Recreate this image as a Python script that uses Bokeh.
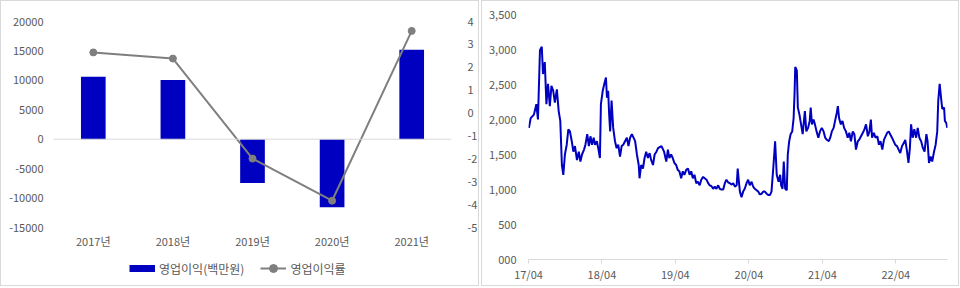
import pandas as pd
from bokeh.plotting import figure
from bokeh.layouts import row, column
from bokeh.models import (Range1d, LinearAxis, FixedTicker, Span, Legend, LegendItem,
                          FactorRange, DatetimeTickFormatter)
from bokeh.embed import file_html
from bokeh.resources import INLINE

# ---------------- data ----------------
years = ["2017년", "2018년", "2019년", "2020년", "2021년"]
op_profit = [10600, 10050, -7450, -11550, 15200]      # 영업이익(백만원)
op_margin = [2.65, 2.38, -1.99, -3.83, 3.59]          # 영업이익률
left_ticks = [-15000, -10000, -5000, 0, 5000, 10000, 15000, 20000]
right_ticks = [-5, -4, -3, -2, -1, 0, 1, 2, 3, 4]
legend_labels = ["영업이익(백만원)", "영업이익률"]

price_dates = [
    "2017-04-03", "2017-04-12", "2017-04-28", "2017-05-10", "2017-05-18", "2017-05-28", "2017-06-06",
    "2017-06-12", "2017-06-21", "2017-06-29", "2017-07-07", "2017-07-16", "2017-07-24", "2017-08-02",
    "2017-08-10", "2017-08-20", "2017-08-29", "2017-09-06", "2017-09-14", "2017-09-21", "2017-09-29",
    "2017-10-08", "2017-10-16", "2017-10-24", "2017-11-02", "2017-11-10", "2017-11-18", "2017-11-28",
    "2017-12-07", "2017-12-15", "2017-12-23", "2018-01-02", "2018-01-09", "2018-01-18", "2018-01-26",
    "2018-02-03", "2018-02-11", "2018-02-19", "2018-02-26", "2018-03-07", "2018-03-15", "2018-03-22",
    "2018-03-27", "2018-04-05", "2018-04-13", "2018-04-21", "2018-04-26", "2018-05-02", "2018-05-07",
    "2018-05-12", "2018-05-19", "2018-05-27", "2018-06-05", "2018-06-13", "2018-06-21", "2018-06-30",
    "2018-07-08", "2018-07-16", "2018-07-25", "2018-08-03", "2018-08-11", "2018-08-19", "2018-08-28",
    "2018-09-05", "2018-09-13", "2018-09-22", "2018-10-01", "2018-10-05", "2018-10-13", "2018-10-22",
    "2018-10-30", "2018-11-07", "2018-11-16", "2018-11-24", "2018-12-02", "2018-12-11", "2018-12-19",
    "2018-12-28", "2019-01-05", "2019-01-22", "2019-02-04", "2019-02-15", "2019-02-23", "2019-03-02",
    "2019-03-11", "2019-03-19", "2019-03-27", "2019-04-05", "2019-04-13", "2019-04-21", "2019-04-30",
    "2019-05-08", "2019-05-16", "2019-05-25", "2019-06-03", "2019-06-11", "2019-06-19", "2019-06-27",
    "2019-07-05", "2019-07-14", "2019-07-22", "2019-07-31", "2019-08-08", "2019-08-17", "2019-08-25",
    "2019-09-03", "2019-09-11", "2019-09-19", "2019-09-27", "2019-10-06", "2019-10-14", "2019-10-22",
    "2019-10-31", "2019-11-08", "2019-11-16", "2019-11-25", "2019-12-03", "2019-12-11", "2019-12-20",
    "2019-12-28", "2020-01-06", "2020-01-14", "2020-01-22", "2020-01-31", "2020-02-05", "2020-02-11",
    "2020-02-16", "2020-02-24", "2020-03-03", "2020-03-11", "2020-03-20", "2020-03-28", "2020-04-05",
    "2020-04-14", "2020-04-22", "2020-04-30", "2020-05-09", "2020-05-17", "2020-05-25", "2020-06-03",
    "2020-06-11", "2020-06-19", "2020-06-28", "2020-07-06", "2020-07-14", "2020-07-22", "2020-08-01",
    "2020-08-09", "2020-08-17", "2020-08-26", "2020-09-03", "2020-09-08", "2020-09-15", "2020-09-21",
    "2020-09-28", "2020-10-06", "2020-10-11", "2020-10-18", "2020-10-25", "2020-11-02", "2020-11-09",
    "2020-11-14", "2020-11-17", "2020-11-25", "2020-11-30", "2020-12-08", "2020-12-16", "2020-12-24",
    "2021-01-04", "2021-01-11", "2021-01-20", "2021-01-28", "2021-02-02", "2021-02-08", "2021-02-16",
    "2021-02-23", "2021-03-03", "2021-03-12", "2021-03-20", "2021-03-29", "2021-04-07", "2021-04-15",
    "2021-04-23", "2021-05-03", "2021-05-10", "2021-05-18", "2021-05-27", "2021-06-03", "2021-06-12",
    "2021-06-17", "2021-06-23", "2021-07-02", "2021-07-10", "2021-07-18", "2021-07-27", "2021-08-05",
    "2021-08-13", "2021-08-21", "2021-08-30", "2021-09-07", "2021-09-15", "2021-09-24", "2021-10-01",
    "2021-10-10", "2021-10-19", "2021-10-27", "2021-11-04", "2021-11-13", "2021-11-21", "2021-11-28",
    "2021-12-04", "2021-12-13", "2021-12-21", "2021-12-30", "2022-01-07", "2022-01-15", "2022-01-24",
    "2022-02-01", "2022-02-09", "2022-02-17", "2022-02-25", "2022-03-04", "2022-03-13", "2022-03-21",
    "2022-03-29", "2022-04-07", "2022-04-15", "2022-04-23", "2022-05-02", "2022-05-10", "2022-05-18",
    "2022-05-27", "2022-06-03", "2022-06-10", "2022-06-16", "2022-06-24", "2022-07-02", "2022-07-11",
    "2022-07-19", "2022-07-27", "2022-08-05", "2022-08-14", "2022-08-22", "2022-08-31", "2022-09-06",
    "2022-09-13", "2022-09-21", "2022-09-29", "2022-10-08", "2022-10-16", "2022-10-24", "2022-10-29",
    "2022-11-05", "2022-11-12", "2022-11-18", "2022-11-27", "2022-12-01", "2022-12-08", "2022-12-13",
]
price_values = [
    1880, 2020, 2070, 2220, 2000, 2990, 3040,
    2650, 2820, 2220, 2510, 2190, 2480, 2410,
    2240, 2430, 2120, 1980, 1350, 1210, 1500,
    1640, 1860, 1830, 1690, 1540, 1620, 1420,
    1540, 1400, 1500, 1570, 1640, 1790, 1620,
    1760, 1640, 1740, 1640, 1690, 1570, 1450,
    2220, 2410, 2510, 2600, 2310, 2410, 2070,
    1830, 2270, 1880, 1690, 1590, 1640, 1470,
    1620, 1640, 1690, 1740, 1620, 1740, 1790,
    1740, 1690, 1500, 1350, 1160, 1350, 1300,
    1450, 1540, 1450, 1520, 1420, 1350, 1500,
    1540, 1590, 1620, 1540, 1400, 1570, 1450,
    1500, 1450, 1380, 1350, 1280, 1260, 1160,
    1260, 1210, 1280, 1300, 1210, 1260, 1160,
    1210, 1090, 1110, 1060, 1140, 1180, 1160,
    1140, 1090, 1060, 1050, 1010, 1040, 1010,
    1060, 1010, 1000, 1000, 1090, 1140, 1100,
    1090, 1070, 1090, 1040, 1060, 1300, 1110,
    970, 890, 970, 1010, 1090, 1140, 1060,
    1110, 1040, 1010, 990, 970, 930, 940,
    970, 970, 940, 920, 920, 970, 1350,
    1690, 1210, 1110, 1210, 1060, 1010, 1400,
    1010, 990, 1500, 1690, 1790, 1830, 2020,
    2400, 2750, 2700, 2170, 2070, 1930, 1790,
    2120, 1830, 1880, 1980, 2170, 1930, 2000,
    1930, 1830, 1740, 1830, 1880, 1830, 1740,
    1710, 1690, 1740, 1830, 1880, 1980, 2100,
    2190, 2020, 1930, 1980, 1880, 1830, 1740,
    1810, 1690, 1830, 1790, 1570, 1690, 1710,
    1760, 1810, 1860, 1930, 1760, 1830, 2000,
    1740, 1810, 1740, 1760, 1640, 1690, 1570,
    1710, 1760, 1810, 1830, 1790, 1740, 1690,
    1640, 1620, 1570, 1520, 1620, 1660, 1710,
    1540, 1380, 1590, 1930, 1740, 1860, 1740,
    1880, 1740, 1690, 1590, 1540, 1790, 1690,
    1380, 1470, 1400, 1540, 1640, 1830, 2270,
    2510, 2310, 2150, 2170, 1980, 1950, 1880,
]
price_ticks = [0, 500, 1000, 1500, 2000, 2500, 3000, 3500]
price_tick_labels = ["000", "500", "1,000", "1,500", "2,000", "2,500", "3,000", "3,500"]
date_tick_values = ["2017-04-01", "2018-04-01", "2019-04-01", "2020-04-01", "2021-04-01", "2022-04-01"]
date_range_end = "2022-12-14"

# ---------------- styles ----------------
FONT = "Noto Sans CJK KR"
TXT = "#595959"
BLUE = "#0000C0"
GRAY = "#7F7F7F"
PANEL = "#d9d9d9"
B = "1px solid " + PANEL
TOP_STYLE = {"border-top": B, "border-left": B, "border-right": B}
BOTTOM_STYLE = {"border-bottom": B, "border-left": B, "border-right": B}
FULL_STYLE = {"border": B}

# ---------------- left chart ----------------
left = figure(width=479, height=252, x_range=FactorRange(*years),
              y_range=Range1d(left_ticks[0], left_ticks[-1]),
              output_backend="svg", toolbar_location=None,
              min_border_left=52, min_border_right=20, min_border_top=20, min_border_bottom=26,
              styles=TOP_STYLE, background_fill_color="white", border_fill_color="white",
              outline_line_color=None)
left.grid.visible = False
left.extra_y_ranges = {"rate": Range1d(right_ticks[0], right_ticks[-1])}

left.vbar(x=years, top=op_profit, bottom=0, width=0.31, fill_color=BLUE, line_color=None)
left.add_layout(Span(location=0, dimension="width", line_color=PANEL, line_width=1))
left.line(x=years, y=op_margin, y_range_name="rate", line_color=GRAY, line_width=2)
left.scatter(x=years, y=op_margin, y_range_name="rate", size=7, fill_color=GRAY, line_color=GRAY)

ya = left.yaxis[0]
ya.ticker = FixedTicker(ticks=left_ticks)
ya.major_label_overrides = {t: str(t) for t in left_ticks}
ra = LinearAxis(y_range_name="rate", ticker=FixedTicker(ticks=right_ticks))
ra.major_label_overrides = {t: str(t) for t in right_ticks}
left.add_layout(ra, "right")
for ax in (ya, ra):
    ax.axis_line_color = None
    ax.major_tick_line_color = None
    ax.minor_tick_line_color = None
    ax.major_label_text_font = FONT
    ax.major_label_text_font_size = "11px"
    ax.major_label_text_color = TXT
ya.major_label_standoff = 4
ra.major_label_standoff = 10

xa = left.xaxis[0]
xa.axis_line_color = None
xa.major_tick_line_color = None
xa.minor_tick_line_color = None
xa.major_label_text_font = FONT
xa.major_label_text_font_size = "11px"
xa.major_label_text_color = TXT
xa.major_label_standoff = -1

# legend strip under the left chart: hidden copies of the series supply the swatches
leg_fig = figure(width=479, height=34, x_range=FactorRange(*years), y_range=Range1d(0, 1),
                 output_backend="svg", toolbar_location=None,
                 x_axis_location=None, y_axis_location=None,
                 min_border_left=0, min_border_right=0, min_border_top=0, min_border_bottom=0,
                 styles=BOTTOM_STYLE, background_fill_color="white", border_fill_color="white",
                 outline_line_color=None)
leg_fig.grid.visible = False
sw_bar = leg_fig.line(x=years, y=op_profit, line_color=BLUE, line_width=7, visible=False)
sw_line = leg_fig.line(x=years, y=op_margin, line_color=GRAY, line_width=2, visible=False)
sw_pts = leg_fig.scatter(x=years, y=op_margin, fill_color=GRAY, line_color=GRAY, visible=False)
legend = Legend(items=[LegendItem(label=legend_labels[0], renderers=[sw_bar]),
                       LegendItem(label=legend_labels[1], renderers=[sw_line, sw_pts])],
                orientation="horizontal", location=(76, 8),
                label_text_font=FONT, label_text_font_size="12px", label_text_color=TXT,
                glyph_width=26, glyph_height=20, label_standoff=4, spacing=16,
                padding=0, margin=0, border_line_color=None, background_fill_alpha=0,
                inactive_fill_alpha=0)
leg_fig.add_layout(legend, "center")

# ---------------- right chart ----------------
dates = pd.to_datetime(price_dates)
right = figure(width=478, height=286, x_axis_type="datetime",
               x_range=Range1d(pd.Timestamp(date_tick_values[0]), pd.Timestamp(date_range_end)),
               y_range=Range1d(price_ticks[0], price_ticks[-1]),
               output_backend="svg", toolbar_location=None,
               min_border_left=46, min_border_right=13, min_border_top=13, min_border_bottom=28,
               styles=FULL_STYLE, background_fill_color="white", border_fill_color="white",
               outline_line_color=None)
right.grid.visible = False
right.line(x=dates, y=price_values, line_color=BLUE, line_width=2)

ry = right.yaxis[0]
ry.ticker = FixedTicker(ticks=price_ticks)
ry.major_label_overrides = dict(zip(price_ticks, price_tick_labels))
ry.axis_line_color = None
ry.major_tick_line_color = None
ry.minor_tick_line_color = None
ry.major_label_standoff = 6

rx = right.xaxis[0]
rx.ticker = FixedTicker(ticks=[pd.Timestamp(d).value / 1e6 for d in date_tick_values])
fmt = "%y/%m"
rx.formatter = DatetimeTickFormatter(days=fmt, months=fmt, years=fmt, hours=fmt, hourmin=fmt)
rx.axis_line_color = PANEL
rx.major_tick_line_color = PANEL
rx.major_tick_out = 4
rx.major_tick_in = 0
rx.minor_tick_line_color = None
rx.major_label_standoff = 2
for ax in (rx, ry):
    ax.major_label_text_font = FONT
    ax.major_label_text_font_size = "11px"
    ax.major_label_text_color = TXT

layout = row(column(left, leg_fig), column(right), spacing=2)
open("out.html", "w").write(file_html(layout, INLINE))
